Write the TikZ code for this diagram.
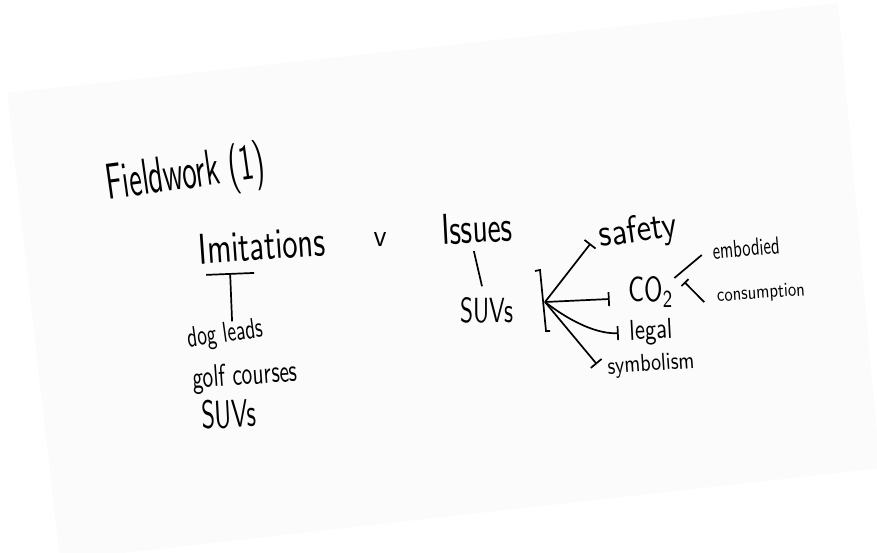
\documentclass[tikz,border=0pt]{standalone}
\usepackage{graphicx}
\usepackage{tikz}
\usetikzlibrary{arrows.meta}

\newlength\pxu
\setlength\pxu{0.5pt}
\newcommand{\hand}[3]{\resizebox{#1\pxu}{#2\pxu}{#3}}

\begin{document}
\begin{tikzpicture}[x=0.5pt,y=-0.5pt,line width=0.85pt,
    word/.style={inner sep=0pt,font=\sffamily},
    endbar/.style={-{Bar[width=7pt,line width=0.85pt]}}]
    \useasboundingbox (0,0) rectangle (877,552);
    \fill[white] (0,0) rectangle (877,552);
    % the sheet of paper
    \fill[black!1.5] (7,93) -- (838,3) -- (880,468) -- (60,560) -- cycle;

    \node[word,rotate=8] (title) at (186,176) {\hand{160}{38}{Fieldwork (1)}};

    \node[word,rotate=4] (imit) at (262,245) {\hand{127}{30}{Imitations}};
    \node[word] (vs) at (380,239) {\hand{13}{14}{v}};
    \node[word,rotate=3] (issues) at (477,228) {\hand{71}{30}{Issues}};

    \node[word,rotate=8] (dog) at (225,335) {\hand{76}{20}{dog leads}};
    \node[word,rotate=4] (golf) at (245,377) {\hand{105}{22}{golf courses}};
    \node[word,rotate=3] (suvleft) at (229,414) {\hand{55}{28}{SUVs}};

    \node[word] (suvright) at (487,310) {\hand{53}{25}{SUVs}};

    \node[word,rotate=8] (safety) at (638,232) {\hand{78}{27}{safety}};
    \node[word] (co) at (651,292) {\hand{45}{25}{CO\textsubscript{2}}};
    \node[word,rotate=3] (legal) at (651,332) {\hand{43}{20}{legal}};
    \node[word,rotate=4] (symb) at (651,365) {\hand{87}{17}{symbolism}};
    \node[word,rotate=5] (embod) at (746,248) {\hand{67}{17}{embodied}};
    \node[word,rotate=4] (consum) at (761,294) {\hand{88}{13}{consumption}};

    % T under Imitations
    \draw[{Bar[width=24pt,line width=0.85pt]}-] ([xshift=-16.5pt,yshift=-6pt]imit.south) -- ([xshift=4.5pt]dog.north);

    \draw ([xshift=-2pt,yshift=-3.5pt]issues.south) -- ([xshift=-2.5pt,yshift=5pt]suvright.north);

    % bracket and fan
    \draw (535,271) -- (540,270) -- (546,331) -- (550,331);
    \coordinate (fan) at (545,302);
    \draw[endbar] (fan) -- ([xshift=-4pt,yshift=-3pt]safety.west);
    \draw[endbar] (fan) -- ([xshift=-9pt,yshift=-3.5pt]co.west);
    \draw[endbar] (fan) .. controls (575,325) and (600,334) .. ([xshift=-5pt]legal.west);
    \draw[endbar] (fan) -- ([xshift=-5pt,yshift=2pt]symb.west);

    \draw ([yshift=7pt]co.east) -- ([xshift=-5pt,yshift=-2pt]embod.west);
    \draw[{Bar[width=5pt,line width=0.85pt]}-] ([xshift=5pt,yshift=5pt]co.east) -- ([xshift=-6pt,yshift=-2.5pt]consum.west);
\end{tikzpicture}
\end{document}
